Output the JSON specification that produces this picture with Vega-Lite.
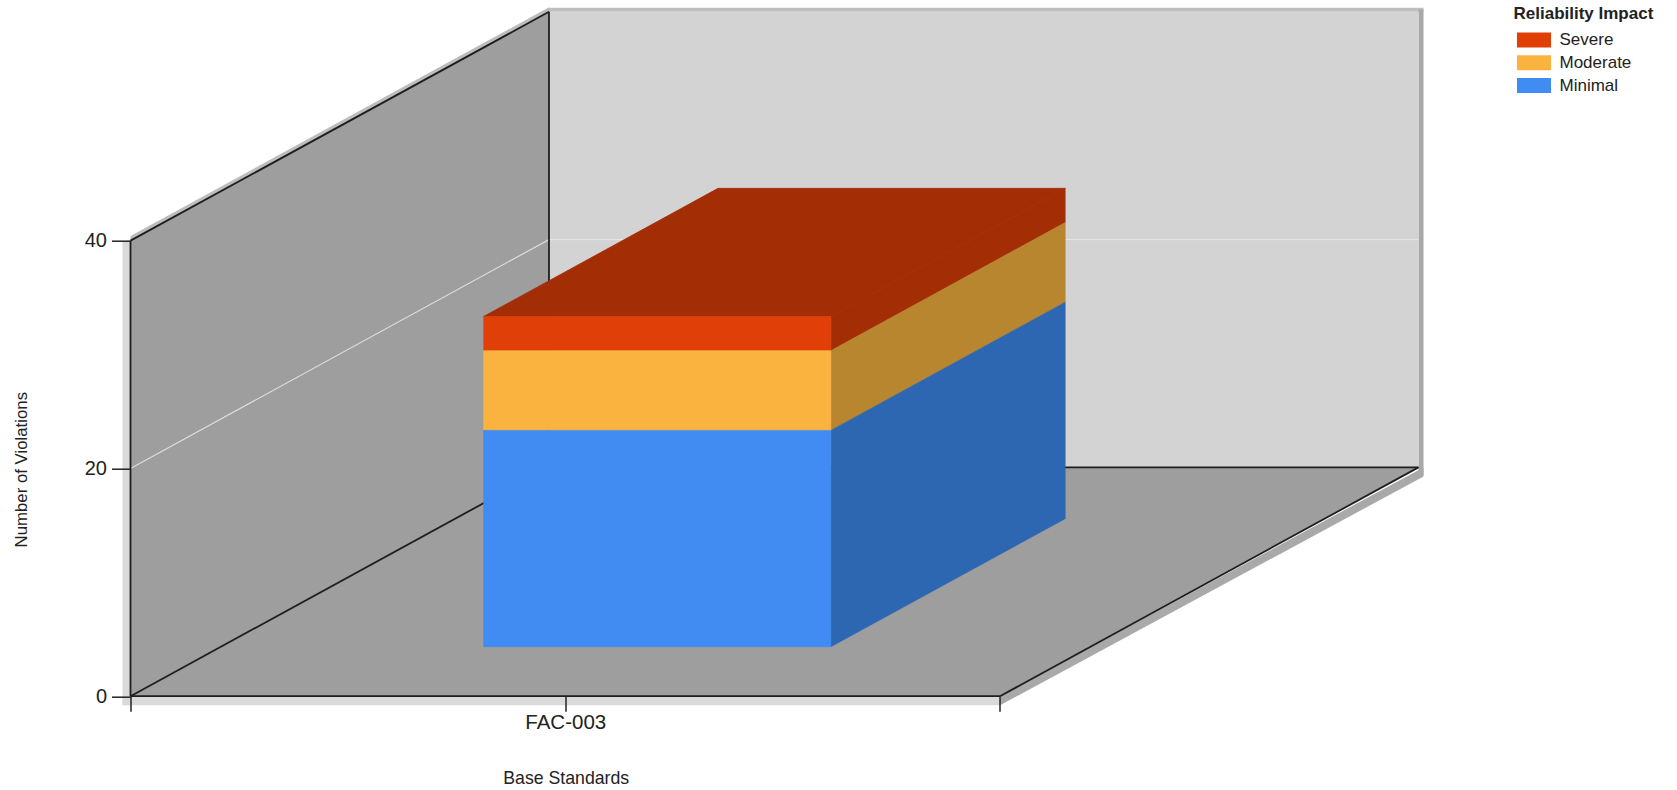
{
  "$schema": "https://vega.github.io/schema/vega-lite/v6.json",
  "width": 1288.5,
  "height": 684.5,
  "autosize": {"type": "none"},
  "padding": {"left": 130.5, "top": 11.7, "right": 258, "bottom": 93.8},
  "background": "#ffffff",
  "config": {
    "view": {"stroke": null},
    "font": "Liberation Sans"
  },
  "params": [
    {"name": "dx", "expr": "0.4813"},
    {"name": "dy", "expr": "20.09"}
  ],
  "datasets": {
    "violations": [
      {"standard": "FAC-003", "impact": "Severe", "violations": 3},
      {"standard": "FAC-003", "impact": "Moderate", "violations": 7},
      {"standard": "FAC-003", "impact": "Minimal", "violations": 19}
    ],
    "depths": [{"depth": 0}, {"depth": 1}],
    "frame": [{"part": "frame"}]
  },
  "resolve": {
    "scale": {"color": "independent", "stroke": "independent"},
    "axis": {"x": "independent", "y": "independent"}
  },
  "layer": [
    {
      "data": {"name": "frame"},
      "mark": {"type": "rect", "color": "#BFBFBF"},
      "encoding": {
        "x": {"datum": 0.4813, "type": "quantitative", "scale": {"domain": [0, 1.4819], "nice": false, "zero": false}, "axis": null},
        "x2": {"datum": 1.4871},
        "y": {"datum": 60.09, "type": "quantitative", "scale": {"domain": [0, 60.1], "nice": false, "zero": false}, "axis": null},
        "y2": {"datum": 60.45}
      }
    },
    {
      "data": {"name": "frame"},
      "mark": {"type": "rect", "color": "#A9A9A9"},
      "encoding": {
        "x": {"datum": 1.4813, "type": "quantitative", "axis": null},
        "x2": {"datum": 1.4871},
        "y": {"datum": 19.4, "type": "quantitative", "axis": null},
        "y2": {"datum": 60.3}
      }
    },
    {
      "data": {"name": "frame"},
      "mark": {"type": "rect", "color": "#DADADA"},
      "encoding": {
        "x": {"datum": -0.0092, "type": "quantitative", "axis": null},
        "x2": {"datum": 0},
        "y": {"datum": -0.8, "type": "quantitative", "axis": null},
        "y2": {"datum": 40}
      }
    },
    {
      "data": {"name": "frame"},
      "mark": {"type": "rect", "color": "#DADADA"},
      "encoding": {
        "x": {"datum": -0.0092, "type": "quantitative", "axis": null},
        "x2": {"datum": 1},
        "y": {"datum": -0.8, "type": "quantitative", "axis": null},
        "y2": {"datum": 0}
      }
    },
    {
      "data": {"name": "depths"},
      "transform": [
        {"calculate": "1 + datum.depth * (dx + 0.0058)", "as": "px"},
        {"calculate": "datum.depth * dy", "as": "py"},
        {"calculate": "datum.py - 0.8", "as": "py2"}
      ],
      "mark": {"type": "area", "color": "#A9A9A9"},
      "encoding": {
        "x": {"field": "px", "type": "quantitative", "axis": null},
        "y": {"field": "py", "type": "quantitative", "axis": null},
        "y2": {"field": "py2"}
      }
    },
    {
      "data": {"name": "depths"},
      "transform": [
        {"calculate": "datum.depth * dx", "as": "px"},
        {"calculate": "40 + datum.depth * dy", "as": "py"},
        {"calculate": "datum.py + 0.4", "as": "py2"}
      ],
      "mark": {"type": "area", "color": "#BDBDBD"},
      "encoding": {
        "x": {"field": "px", "type": "quantitative", "axis": null},
        "y": {"field": "py", "type": "quantitative", "axis": null},
        "y2": {"field": "py2"}
      }
    },
    {
      "data": {"name": "frame"},
      "mark": {"type": "rect", "color": "#D3D3D3"},
      "encoding": {
        "x": {"datum": 0.4813, "type": "quantitative", "axis": null},
        "x2": {"datum": 1.4813},
        "y": {"datum": 20.09, "type": "quantitative", "axis": null},
        "y2": {"datum": 60.09}
      }
    },
    {
      "data": {"name": "depths"},
      "transform": [
        {"calculate": "datum.depth * dx", "as": "px"},
        {"calculate": "datum.depth * dy", "as": "py"},
        {"calculate": "40 + datum.py", "as": "py2"}
      ],
      "mark": {"type": "area", "color": "#9E9E9E"},
      "encoding": {
        "x": {"field": "px", "type": "quantitative", "axis": null},
        "y": {"field": "py", "type": "quantitative", "axis": null},
        "y2": {"field": "py2"}
      }
    },
    {
      "data": {"name": "depths"},
      "transform": [
        {"calculate": "datum.depth * dx", "as": "px"},
        {"calculate": "1 + datum.px", "as": "px2"},
        {"calculate": "datum.depth * dy", "as": "py"}
      ],
      "mark": {"type": "area", "color": "#9E9E9E", "orient": "horizontal"},
      "encoding": {
        "x": {"field": "px", "type": "quantitative",
          "axis": {"values": [0, 0.5, 1], "labelExpr": "datum.value == 0.5 ? 'FAC-003' : ''", "title": "Base Standards", "domain": false, "grid": false, "zindex": 1,
            "tickSize": 15, "tickWidth": 1.5, "tickColor": "#222222", "labelFontSize": 20.5, "labelColor": "#222222", "labelFont": "Liberation Sans", "labelPadding": 1, "labelOverlap": false,
            "titleFontSize": 17.7, "titleFontWeight": "normal", "titleColor": "#222222", "titleFont": "Liberation Sans", "titleX": 435.2, "titleY": 87, "titleAlign": "center", "titleBaseline": "alphabetic"}},
        "x2": {"field": "px2"},
        "y": {"field": "py", "type": "quantitative",
          "axis": {"values": [0, 20, 40], "title": "Number of Violations", "domain": false, "grid": false, "zindex": 1,
            "tickSize": 19, "tickWidth": 1.5, "tickColor": "#222222", "labelFontSize": 20, "labelColor": "#222222", "labelFont": "Liberation Sans", "labelPadding": 5,
            "titleFontSize": 16.8, "titleFontWeight": "normal", "titleColor": "#222222", "titleFont": "Liberation Sans", "titleX": -104, "titleY": 457.5, "titleAlign": "center", "titleBaseline": "alphabetic", "titleAngle": -90}}
      }
    },
    {
      "data": {"name": "frame"},
      "mark": {"type": "rule", "color": "#DCDCDC", "strokeWidth": 1.2},
      "encoding": {
        "x": {"datum": 0, "type": "quantitative", "axis": null},
        "x2": {"datum": 0.4813},
        "y": {"datum": 20, "type": "quantitative", "axis": null},
        "y2": {"datum": 40.09}
      }
    },
    {
      "data": {"name": "frame"},
      "mark": {"type": "rule", "color": "#E6E6E6", "strokeWidth": 1},
      "encoding": {
        "x": {"datum": 0.4813, "type": "quantitative", "axis": null},
        "x2": {"datum": 1.4813},
        "y": {"datum": 40.09, "type": "quantitative", "axis": null}
      }
    },
    {
      "data": {"name": "frame"},
      "mark": {"type": "rule", "color": "#1E1E1E", "strokeWidth": 1.8},
      "encoding": {
        "x": {"datum": 0.4813, "type": "quantitative", "axis": null},
        "y": {"datum": 20.09, "type": "quantitative", "axis": null},
        "y2": {"datum": 60.09}
      }
    },
    {
      "data": {"name": "frame"},
      "mark": {"type": "rule", "color": "#1E1E1E", "strokeWidth": 1.8},
      "encoding": {
        "x": {"datum": 0.4813, "type": "quantitative", "axis": null},
        "x2": {"datum": 1.4813},
        "y": {"datum": 20.09, "type": "quantitative", "axis": null}
      }
    },
    {
      "data": {"name": "frame"},
      "mark": {"type": "rule", "color": "#1E1E1E", "strokeWidth": 1.8},
      "encoding": {
        "x": {"datum": 0, "type": "quantitative", "axis": null},
        "x2": {"datum": 0.4813},
        "y": {"datum": 0, "type": "quantitative", "axis": null},
        "y2": {"datum": 20.09}
      }
    },
    {
      "data": {"name": "frame"},
      "mark": {"type": "rule", "color": "#1E1E1E", "strokeWidth": 1.8},
      "encoding": {
        "x": {"datum": 0, "type": "quantitative", "axis": null},
        "x2": {"datum": 0.4813},
        "y": {"datum": 40, "type": "quantitative", "axis": null},
        "y2": {"datum": 60.09}
      }
    },
    {
      "data": {"name": "frame"},
      "mark": {"type": "rule", "color": "#1E1E1E", "strokeWidth": 1.8},
      "encoding": {
        "x": {"datum": 1, "type": "quantitative", "axis": null},
        "x2": {"datum": 1.4813},
        "y": {"datum": 0, "type": "quantitative", "axis": null},
        "y2": {"datum": 20.09}
      }
    },
    {
      "data": {"name": "frame"},
      "mark": {"type": "rule", "color": "#1E1E1E", "strokeWidth": 1.8},
      "encoding": {
        "x": {"datum": 0, "type": "quantitative", "axis": null},
        "y": {"datum": 0, "type": "quantitative", "axis": null},
        "y2": {"datum": 40}
      }
    },
    {
      "data": {"name": "frame"},
      "mark": {"type": "rule", "color": "#1E1E1E", "strokeWidth": 1.8},
      "encoding": {
        "x": {"datum": 0, "type": "quantitative", "axis": null},
        "x2": {"datum": 1},
        "y": {"datum": 0, "type": "quantitative", "axis": null}
      }
    },
    {
      "data": {"name": "violations"},
      "transform": [
        {"calculate": "indexof(['Minimal', 'Moderate', 'Severe'], datum.impact)", "as": "order"},
        {"stack": "violations", "sort": [{"field": "order", "order": "ascending"}], "groupby": ["standard"], "as": ["base", "top"]},
        {"calculate": "[0.216, 0.776]", "as": "depth"},
        {"flatten": ["depth"]},
        {"calculate": "0.7015 + datum.depth * dx", "as": "px"},
        {"calculate": "datum.base + datum.depth * dy", "as": "py"},
        {"calculate": "datum.top + datum.depth * dy", "as": "py2"}
      ],
      "mark": {"type": "area", "strokeWidth": 0.6},
      "encoding": {
        "x": {"field": "px", "type": "quantitative", "axis": null},
        "y": {"field": "py", "type": "quantitative", "axis": null},
        "y2": {"field": "py2"},
        "color": {"field": "impact", "type": "nominal", "legend": null,
          "scale": {"domain": ["Severe", "Moderate", "Minimal"], "range": ["#A32E05", "#B98630", "#2E67B1"]}},
        "stroke": {"field": "impact", "type": "nominal", "legend": null,
          "scale": {"domain": ["Severe", "Moderate", "Minimal"], "range": ["#A32E05", "#B98630", "#2E67B1"]}}
      }
    },
    {
      "data": {"name": "violations"},
      "transform": [
        {"calculate": "indexof(['Minimal', 'Moderate', 'Severe'], datum.impact)", "as": "order"},
        {"stack": "violations", "sort": [{"field": "order", "order": "ascending"}], "groupby": ["standard"], "as": ["base", "top"]},
        {"filter": "datum.impact == 'Severe'"},
        {"calculate": "[0.216, 0.776]", "as": "depth"},
        {"flatten": ["depth"]},
        {"calculate": "0.3022 + datum.depth * dx", "as": "px"},
        {"calculate": "0.7015 + datum.depth * dx", "as": "px2"},
        {"calculate": "datum.top + datum.depth * dy", "as": "py"}
      ],
      "mark": {"type": "area", "orient": "horizontal", "color": "#A32E05", "stroke": "#A32E05", "strokeWidth": 0.8},
      "encoding": {
        "x": {"field": "px", "type": "quantitative", "axis": null},
        "x2": {"field": "px2"},
        "y": {"field": "py", "type": "quantitative", "axis": null}
      }
    },
    {
      "data": {"name": "violations"},
      "transform": [
        {"calculate": "indexof(['Minimal', 'Moderate', 'Severe'], datum.impact)", "as": "order"},
        {"stack": "violations", "sort": [{"field": "order", "order": "ascending"}], "groupby": ["standard"], "as": ["base", "top"]},
        {"calculate": "0.3022 + 0.216 * dx", "as": "px"},
        {"calculate": "0.7015 + 0.216 * dx", "as": "px2"},
        {"calculate": "datum.base + 0.216 * dy", "as": "py"},
        {"calculate": "datum.top + 0.216 * dy", "as": "py2"}
      ],
      "mark": {"type": "rect", "strokeWidth": 0.6},
      "encoding": {
        "x": {"field": "px", "type": "quantitative", "axis": null},
        "x2": {"field": "px2"},
        "y": {"field": "py", "type": "quantitative", "axis": null},
        "y2": {"field": "py2"},
        "stroke": {"field": "impact", "type": "nominal", "legend": null,
          "scale": {"domain": ["Severe", "Moderate", "Minimal"], "range": ["#E04008", "#FBB340", "#408CF2"]}},
        "color": {"field": "impact", "type": "nominal",
          "scale": {"domain": ["Severe", "Moderate", "Minimal"], "range": ["#E04008", "#FBB340", "#408CF2"]},
          "legend": {
            "title": "Reliability Impact", "orient": "none", "legendX": 1383, "legendY": -6,
            "padding": 0, "titleFont": "Liberation Sans", "titleFontSize": 17, "titleFontWeight": "bold", "titleColor": "#222222", "titlePadding": 8.7,
            "labelFont": "Liberation Sans", "labelFontSize": 17, "labelColor": "#222222", "labelOffset": 17,
            "symbolType": "M-2.27,-1H2.27V1H-2.27Z", "symbolSize": 225, "symbolStrokeWidth": 0, "symbolOffset": 12, "rowPadding": 4.8
          }}
      }
    }
  ]
}
